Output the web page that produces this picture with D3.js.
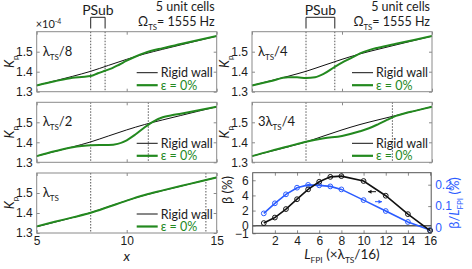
<!DOCTYPE html>
<html>
<head>
<meta charset="utf-8">
<script src="https://cdn.jsdelivr.net/npm/d3@7"></script>
<style>
	body{margin:0;background:#fff;}
	svg{display:block;font-family:Lato,"Liberation Sans",sans-serif;}
</style>
</head>
<body>
<svg id="fig" width="472" height="269"></svg>
<script>
'use strict'
// ---- data ----
var kpTicks = [1.3, 1.4, 1.5];
var posTicks = [5, 10, 15];
var psubStart = 8;

var rigidX  = [5, 6, 7, 8, 9, 10, 11, 12, 13, 14, 15];
var rigidKp = [1.331, 1.354, 1.377, 1.402, 1.432, 1.462, 1.489, 1.512, 1.534, 1.556, 1.578];

var eps8X  = [5, 6, 7, 7.5, 8, 8.4, 8.8, 9.2, 9.6, 10, 10.5, 11, 12, 13, 14, 15];
var eps8Kp = [1.331, 1.352, 1.370, 1.374, 1.378, 1.392, 1.405, 1.418, 1.436, 1.455, 1.476, 1.494, 1.518, 1.538, 1.558, 1.578];

var eps4X  = [5, 6, 7, 7.5, 8, 8.5, 9, 9.6, 10, 10.5, 11, 11.5, 12, 13, 14, 15];
var eps4Kp = [1.331, 1.352, 1.372, 1.372, 1.368, 1.372, 1.390, 1.424, 1.445, 1.468, 1.492, 1.508, 1.520, 1.540, 1.559, 1.578];

var eps2X  = [5, 6, 7, 7.5, 8, 8.5, 9, 9.5, 10, 10.5, 11, 11.5, 12, 12.5, 13, 14, 15];
var eps2Kp = [1.331, 1.355, 1.375, 1.381, 1.385, 1.386, 1.386, 1.392, 1.410, 1.440, 1.475, 1.505, 1.525, 1.535, 1.543, 1.560, 1.578];

var eps34X  = [5, 6, 7, 8, 9, 10, 11, 11.5, 12, 12.5, 13, 13.5, 14, 15];
var eps34Kp = [1.331, 1.356, 1.379, 1.403, 1.420, 1.432, 1.455, 1.470, 1.490, 1.512, 1.532, 1.545, 1.556, 1.578];

var eps1X  = [5, 6, 7, 8, 9, 10, 11, 12, 13, 14, 15];
var eps1Kp = [1.333, 1.356, 1.378, 1.401, 1.431, 1.462, 1.490, 1.513, 1.535, 1.556, 1.578];

var psubEnds = [8.8, 9.6, 11.2, 12.8, 14.4];

var lfpi     = [1, 2, 3, 4, 5, 6, 7, 8, 10, 12, 14, 16];
var beta     = [0.35, 1.08, 2.2, 3.5, 4.8, 5.8, 6.45, 6.55, 5.9, 3.96, 1.53, -0.65];
var betaPerL = [0.066, 0.113, 0.155, 0.186, 0.199, 0.197, 0.192, 0.178, 0.128, 0.077, 0.026, -0.012];
var lfpiTicks = [2, 4, 6, 8, 10, 12, 14, 16];
var betaTicks = [-1, 0, 2, 4, 6];
var betaLTicks = [0, 0.1, 0.2];

// ---- layout ----
var svg = d3.select("#fig");
var colW = 180, rowH = 60;
var colLeft = [36.7, 252];
var rowTop = [31.7, 102.3, 173];
var green = "#23891f", blue = "#2b5cff", frameCol = "#8a8a8a", txtCol = "#1c1c1c";

var x = d3.scaleLinear().domain([5, 15]).range([0, colW]);
var y = d3.scaleLinear().domain([1.3, 1.6]).range([rowH, 0]);
var kpLine = d3.line()
				.x(function(d){ return x(d[0]); })
				.y(function(d){ return y(d[1]); })
				.curve(d3.curveMonotoneX);

var panels = [
	{col: 0, row: 0, ex: eps8X,  ek: eps8Kp,  end: psubEnds[0], pre: "", post: "/8"},
	{col: 0, row: 1, ex: eps2X,  ek: eps2Kp,  end: psubEnds[2], pre: "", post: "/2"},
	{col: 0, row: 2, ex: eps1X,  ek: eps1Kp,  end: psubEnds[4], pre: "", post: ""},
	{col: 1, row: 0, ex: eps4X,  ek: eps4Kp,  end: psubEnds[1], pre: "", post: "/4"},
	{col: 1, row: 1, ex: eps34X, ek: eps34Kp, end: psubEnds[3], pre: "3", post: "/4"}
];

// text with sub/superscripts; parts = [{t, sub, sup, it}]
function rich(g, px, py, parts, size, anchor, fill){
	var t = g.append("text")
				.attr("x", px).attr("y", py)
				.attr("font-size", size)
				.attr("text-anchor", anchor || "start")
				.attr("fill", fill || txtCol);
	var shift = 0;
	parts.forEach(function(p){
		var s = t.append("tspan").text(p.t);
		var want = p.sub ? size * 0.3 : (p.sup ? -size * 0.4 : 0);
		if(want !== shift) s.attr("dy", want - shift);
		shift = want;
		if(p.sub || p.sup) s.attr("font-size", size * 0.62);
		if(p.it) s.attr("font-style", "italic");
	});
	return t;
}

function styleAxis(a){
	a.select(".domain").remove();
	a.selectAll(".tick line").attr("stroke", frameCol);
	a.selectAll(".tick text").attr("font-size", 12).attr("fill", txtCol).attr("font-family", null);
}

function drawKpPanel(p){
	var g = svg.append("g")
				.attr("transform", "translate(" + colLeft[p.col] + "," + rowTop[p.row] + ")");

	[psubStart, p.end].forEach(function(v){
		g.append("line")
			.attr("x1", x(v)).attr("x2", x(v))
			.attr("y1", 0).attr("y2", rowH)
			.attr("stroke", "#444")
			.attr("stroke-width", 0.9)
			.attr("stroke-dasharray", "1.5,1.5");
	});

	styleAxis(g.append("g")
		.call(d3.axisLeft(y).tickValues(kpTicks).tickSize(-3).tickPadding(4).tickFormat(d3.format(".1f"))));
	styleAxis(g.append("g").attr("transform", "translate(" + colW + ",0)")
		.call(d3.axisRight(y).tickValues(kpTicks).tickSize(-3).tickFormat("")));
	styleAxis(g.append("g")
		.call(d3.axisTop(x).tickValues(posTicks).tickSize(-3).tickFormat("")));
	styleAxis(g.append("g").attr("transform", "translate(0," + rowH + ")")
		.call(d3.axisBottom(x).tickValues(posTicks).tickSize(-3).tickPadding(3)
			.tickFormat(p.row === 2 ? d3.format("d") : "")));

	g.append("path")
		.datum(d3.zip(rigidX, rigidKp))
		.attr("d", kpLine)
		.attr("fill", "none").attr("stroke", "#111").attr("stroke-width", 1);
	g.append("path")
		.datum(d3.zip(p.ex, p.ek))
		.attr("d", kpLine)
		.attr("fill", "none").attr("stroke", green).attr("stroke-width", 2);

	g.append("rect")
		.attr("width", colW).attr("height", rowH)
		.attr("fill", "none").attr("stroke", frameCol).attr("stroke-width", 1);

	// panel label
	rich(g, 6, 24, [{t: p.pre + "λ"}, {t: "TS", sub: 1}, {t: p.post}], 13);

	// legend
	[["Rigid wall", "#111", 1, txtCol], ["ε = 0%", green, 2.2, green]].forEach(function(l, i){
		var ly = 41 + i * 12.5;
		g.append("line")
			.attr("x1", 100).attr("x2", 121).attr("y1", ly).attr("y2", ly)
			.attr("stroke", l[1]).attr("stroke-width", l[2]);
		g.append("text")
			.attr("x", 124).attr("y", ly + 4.5)
			.attr("font-size", 12.5).attr("fill", l[3])
			.text(l[0]);
	});

	// K_p label
	var kl = rich(svg, 0, 0, [{t: "K", it: 1}, {t: "p", sub: 1}], 13, "middle");
	kl.attr("transform", "translate(" + (colLeft[p.col] - 23) + "," + (rowTop[p.row] + rowH / 2) + ") rotate(-90)");

	if(p.row === 0){
		var bx0 = colLeft[p.col] + x(psubStart), bx1 = colLeft[p.col] + x(p.end);
		svg.append("path")
			.attr("d", "M" + bx0 + ",28.5V17.3H" + bx1 + "V28.5")
			.attr("fill", "none").attr("stroke", "#222").attr("stroke-width", 1);
		svg.append("text")
			.attr("x", (bx0 + bx1) / 2).attr("y", 14.5)
			.attr("text-anchor", "middle").attr("font-size", 14).attr("fill", txtCol)
			.text("PSub");
		var cr = colLeft[p.col] + colW - 2;
		svg.append("text")
			.attr("x", cr).attr("y", 11)
			.attr("text-anchor", "end").attr("font-size", 12.5).attr("fill", txtCol)
			.text("5 unit cells");
		rich(svg, cr, 26, [{t: "Ω"}, {t: "TS", sub: 1}, {t: "= 1555 Hz"}], 12.5, "end");
	}
}

panels.forEach(drawKpPanel);

// ×10^-4
rich(svg, colLeft[0] - 1, 28, [{t: "×10"}, {t: "-4", sup: 1}], 11);

// x label
svg.append("text")
	.attr("x", colLeft[0] + colW / 2).attr("y", 261)
	.attr("text-anchor", "middle").attr("font-size", 14).attr("font-style", "italic")
	.attr("fill", txtCol).text("x");

// ---- beta panel ----
var bw = 178.5, bh = 60.6;
var bg = svg.append("g").attr("transform", "translate(252.7,172.7)");
var bxs = d3.scaleLinear().domain([0, 16.1]).range([0, bw]);
var bys = d3.scaleLinear().domain([-1, 7]).range([bh, 0]);
var brs = d3.scaleLinear().domain([-0.027, 0.256]).range([bh, 0]);

bg.append("line")
	.attr("x1", 0).attr("x2", bw).attr("y1", bys(0)).attr("y2", bys(0))
	.attr("stroke", "#555").attr("stroke-width", 1.3);

styleAxis(bg.append("g")
	.call(d3.axisLeft(bys).tickValues(betaTicks).tickSize(-3).tickPadding(4)));
styleAxis(bg.append("g").attr("transform", "translate(0," + bh + ")")
	.call(d3.axisBottom(bxs).tickValues(lfpiTicks).tickSize(-3).tickPadding(3)));
styleAxis(bg.append("g")
	.call(d3.axisTop(bxs).tickValues(lfpiTicks).tickSize(-3).tickFormat("")));
var ra = bg.append("g").attr("transform", "translate(" + bw + ",0)")
	.call(d3.axisRight(brs).tickValues(betaLTicks).tickSize(-3).tickPadding(4).tickFormat(d3.format("~g")));
styleAxis(ra);
ra.selectAll(".tick text").attr("fill", blue);

var bLine = d3.line().x(function(d){ return bxs(d[0]); }).y(function(d){ return bys(d[1]); });
var rLine = d3.line().x(function(d){ return bxs(d[0]); }).y(function(d){ return brs(d[1]); });

bg.append("path").datum(d3.zip(lfpi, betaPerL)).attr("d", rLine)
	.attr("fill", "none").attr("stroke", blue).attr("stroke-width", 1.6);
bg.selectAll(".bl").data(d3.zip(lfpi, betaPerL)).enter().append("circle")
	.attr("cx", function(d){ return bxs(d[0]); }).attr("cy", function(d){ return brs(d[1]); })
	.attr("r", 2.4).attr("fill", "none").attr("stroke", blue).attr("stroke-width", 1);

bg.append("path").datum(d3.zip(lfpi, beta)).attr("d", bLine)
	.attr("fill", "none").attr("stroke", "#111").attr("stroke-width", 1.6);
bg.selectAll(".bk").data(d3.zip(lfpi, beta)).enter().append("circle")
	.attr("cx", function(d){ return bxs(d[0]); }).attr("cy", function(d){ return bys(d[1]); })
	.attr("r", 2.4).attr("fill", "none").attr("stroke", "#111").attr("stroke-width", 1);

bg.append("rect").attr("width", bw).attr("height", bh)
	.attr("fill", "none").attr("stroke", "#555").attr("stroke-width", 1);

// arrows
function arrow(x0, x1, yy, col){
	var dir = x1 > x0 ? 1 : -1;
	bg.append("line").attr("x1", x0).attr("x2", x1).attr("y1", yy).attr("y2", yy)
		.attr("stroke", col).attr("stroke-width", 1);
	bg.append("path")
		.attr("d", "M" + x1 + "," + yy + "l" + (-dir * 3.5) + ",-2v4z")
		.attr("fill", col);
}
arrow(123.3, 115.3, 19, "#111");
arrow(122.3, 129.3, 29, blue);

// beta labels
rich(svg, 0, 0, [{t: "β (%)"}], 13, "middle")
	.attr("transform", "translate(232,190) rotate(-90)");
rich(svg, 0, 0, [{t: "β/"}, {t: "L", it: 1}, {t: "FPI", sub: 1}, {t: " (%)"}], 13, "middle", blue)
	.attr("transform", "translate(459,203) rotate(-90)");
rich(svg, 252.7 + bw / 2, 259, [{t: "L", it: 1}, {t: "FPI", sub: 1}, {t: " (×λ"}, {t: "TS", sub: 1}, {t: "/16)"}], 13.5, "middle");
</script>
</body>
</html>
